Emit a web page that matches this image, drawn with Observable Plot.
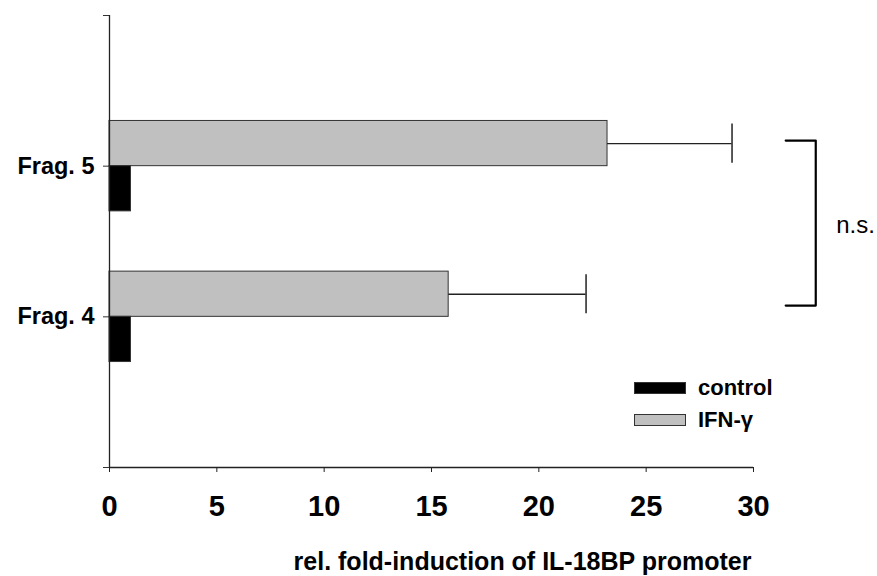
<!DOCTYPE html>
<html>
<head>
<meta charset="utf-8">
<script src="https://cdn.jsdelivr.net/npm/d3@7"></script>
<script src="https://cdn.jsdelivr.net/npm/@observablehq/plot@0.6"></script>
<style>
  html, body { margin: 0; padding: 0; background: #fff; }
  #wrap { position: relative; width: 877px; height: 576px; font-family: "Liberation Sans", Arial, sans-serif; }
  #legend { position: absolute; left: 634px; top: 372px; font-weight: bold; font-size: 22px; color: #000; }
  .row { display: flex; align-items: center; height: 32px; }
  .sw { width: 52px; height: 12px; box-sizing: border-box; margin-right: 12px; }
</style>
</head>
<body>
<div id="wrap"><div id="legend"></div></div>
<script>
// ---- data ----
const categories = ["Frag. 5", "Frag. 4"];
const controlValues = [1.0, 1.0];
const ifnValues = [23.2, 15.8];
const ifnErrors = [5.8, 6.4];
const xTicks = [0, 5, 10, 15, 20, 25, 30];
const seriesNames = ["control", "IFN-\u03b3"];
const seriesColors = ["#000000", "#c0c0c0"];
const xTitle = "rel. fold-induction of IL-18BP promoter";
const significanceLabel = "n.s.";

// ---- layout ----
const W = 877, H = 576;
const nSlots = categories.length + 1;
const half = 0.3;
const rows = categories.map((c, i) => ({
  cat: c,
  pos: categories.length - i,
  control: controlValues[i],
  ifn: ifnValues[i],
  err: ifnErrors[i]
}));
const font = "Liberation Sans, Arial, sans-serif";
const edge = "#333";

const posOf = c => rows.find(r => r.cat === c).pos;
const bracketX1 = 31.5, bracketX2 = 32.9;
const bTop = posOf(categories[0]) + 0.17;
const bBot = posOf(categories[1]) + 0.075;
const bracket = [
  {x: bracketX1, y: bTop}, {x: bracketX2, y: bTop},
  {x: bracketX2, y: bBot}, {x: bracketX1, y: bBot}
];
const tickLabel = d => { const r = rows.find(r => r.pos === d); return r ? r.cat : ""; };

const chart = Plot.plot({
  width: W,
  height: H,
  marginLeft: 109,
  marginRight: 124,
  marginTop: 15,
  marginBottom: 109,
  style: {fontFamily: font, color: "#000", background: "#fff"},
  x: {domain: [0, 30]},
  y: {domain: [0, nSlots]},
  marks: [
    Plot.rectX(rows, {x1: 0, x2: "ifn", y1: d => d.pos, y2: d => d.pos + half, fill: seriesColors[1], stroke: edge, strokeWidth: 1}),
    Plot.rectX(rows, {x1: 0, x2: "control", y1: d => d.pos - half, y2: d => d.pos, fill: seriesColors[0], stroke: edge, strokeWidth: 1}),
    Plot.ruleY(rows, {y: d => d.pos + half / 2, x1: "ifn", x2: d => d.ifn + d.err, stroke: "#222", strokeWidth: 1.3}),
    Plot.ruleX(rows, {x: d => d.ifn + d.err, y1: d => d.pos + 0.02, y2: d => d.pos + half - 0.02, stroke: "#222", strokeWidth: 1.5}),
    Plot.ruleX([0], {stroke: "#222", strokeWidth: 1.3}),
    Plot.ruleY([0], {stroke: "#222", strokeWidth: 1.3}),
    Plot.axisX({ticks: xTicks, tickSize: 5, tickPadding: 23, fontSize: 29, fontWeight: "bold", stroke: "#222", label: null, tickFormat: d => String(d)}),
    Plot.axisY({ticks: d3.range(0, nSlots + 1), tickSize: 6, tickPadding: 9, fontSize: 23.5, fontWeight: "bold", stroke: "#333", label: null, tickFormat: tickLabel}),
    Plot.line(bracket, {x: "x", y: "y", stroke: "#000", strokeWidth: 2.2, curve: "linear"}),
    Plot.text([significanceLabel], {x: bracketX2 + 0.95, y: (bTop + bBot) / 2, text: d => d, textAnchor: "start", lineAnchor: "bottom", dy: 10, fontSize: 24, fill: "#000"}),
    Plot.text([xTitle], {frameAnchor: "bottom", dx: 91, dy: 102, lineAnchor: "bottom", text: d => d, fontSize: 25, fontWeight: "bold", fill: "#000"})
  ]
});
document.getElementById("wrap").prepend(chart);

const legend = document.getElementById("legend");
seriesNames.forEach((n, i) => {
  const row = document.createElement("div");
  row.className = "row";
  const sw = document.createElement("div");
  sw.className = "sw";
  sw.style.background = seriesColors[i];
  sw.style.border = "1px solid " + edge;
  const t = document.createElement("span");
  t.textContent = n;
  row.append(sw, t);
  legend.append(row);
});
</script>
</body>
</html>
